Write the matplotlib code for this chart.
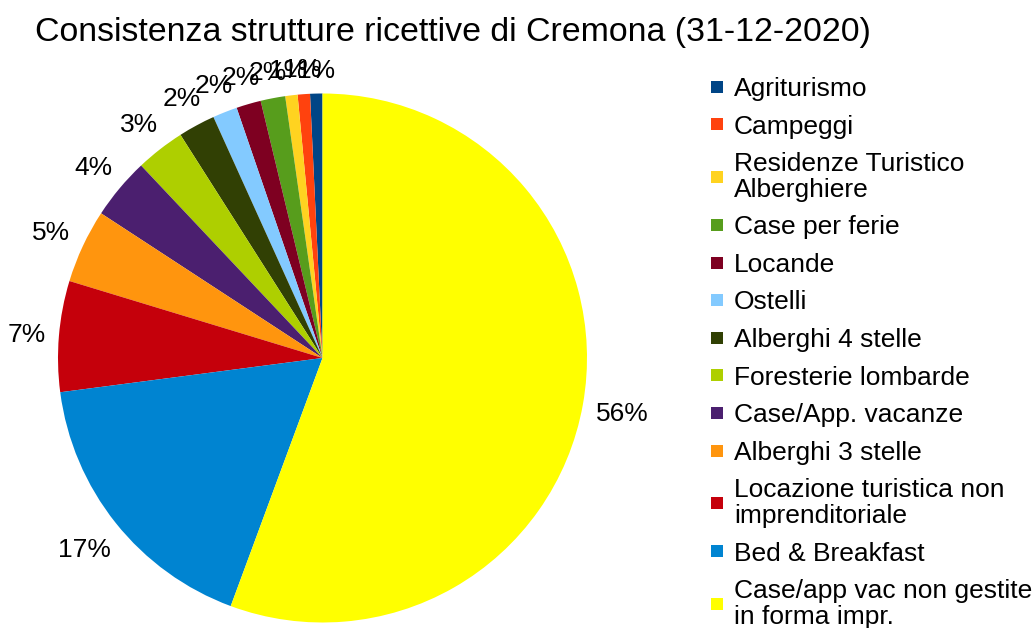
import matplotlib
matplotlib.use("Agg")
import numpy as np
import matplotlib.pyplot as plt
from matplotlib.lines import Line2D

plt.rcParams['font.family'] = ['Liberation Sans', 'DejaVu Sans']

categories = [
    "Agriturismo",
    "Campeggi",
    "Residenze Turistico\nAlberghiere",
    "Case per ferie",
    "Locande",
    "Ostelli",
    "Alberghi 4 stelle",
    "Foresterie lombarde",
    "Case/App. vacanze",
    "Alberghi 3 stelle",
    "Locazione turistica non\nimprenditoriale",
    "Bed & Breakfast",
    "Case/app vac non gestite\nin forma impr.",
]
values = [1, 1, 1, 2, 2, 2, 3, 4, 5, 6, 9, 23, 74]
colors = ["#004586", "#ff420e", "#ffd320", "#579d1c", "#7e0021", "#83caff",
          "#314004", "#aecf00", "#4b1f6f", "#ff950e", "#c5000b", "#0084d1",
          "#ffff00"]
title = "Consistenza strutture ricettive di Cremona (31-12-2020)"

W, H = 1033, 628
fig = plt.figure(figsize=(W / 100, H / 100), dpi=100)

cx, cy, r = 322.5, 358, 264.5
ax = fig.add_axes([(cx - r) / W, (H - cy - r) / H, 2 * r / W, 2 * r / H])
wedges, texts, autotexts = ax.pie(
    values, colors=colors, startangle=90, counterclock=True,
    autopct=lambda p: f"{p:.0f}%", pctdistance=1.14,
    wedgeprops=dict(linewidth=0),
    textprops=dict(fontsize=19, color="black"),
)
ax.set_xlim(-1, 1)
ax.set_ylim(-1, 1)

# place percentage labels just outside the rim, box edge touching a circle
renderer = fig.canvas.get_renderer()
for w, t in zip(wedges, autotexts):
    th = np.deg2rad((w.theta1 + w.theta2) / 2)
    c, s = np.cos(th), np.sin(th)
    bb = t.get_window_extent(renderer)
    d = 1.047 + (abs(c) * bb.width / 2 + abs(s) * bb.height / 2) / r
    t.set_position((d * c, d * s - 2 / r))
    t.set_ha("center")
    t.set_va("center")

fig.text(453 / W, 1 - 33 / H, title, ha="center", va="center", fontsize=24.4)

handles = [Line2D([], [], linestyle="none", marker="s", markersize=8.6,
                  markerfacecolor=c, markeredgewidth=0) for c in colors]
leg = fig.legend(handles, categories, loc="upper left",
                 bbox_to_anchor=(710.5 / W, 1 - 77 / H),
                 frameon=False, fontsize=19, borderpad=0, borderaxespad=0,
                 handlelength=0.455, handletextpad=0.43, labelspacing=0.515)
for t in leg.get_texts():
    t.set_linespacing(1.08)

fig.savefig("out.png", dpi=100)
